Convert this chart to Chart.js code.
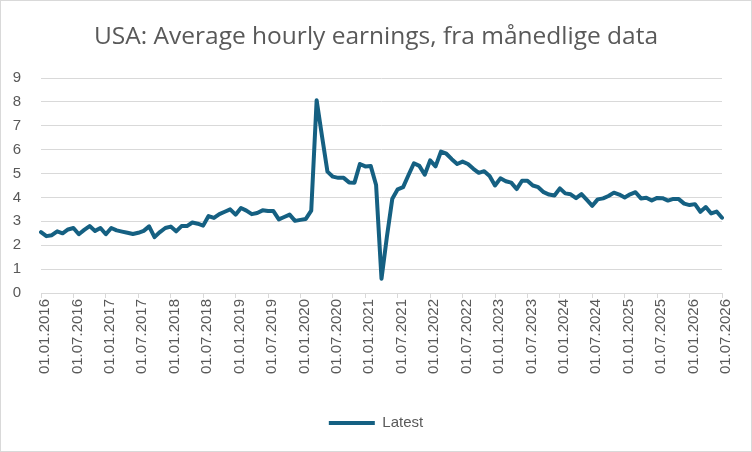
<!DOCTYPE html>
<html>
<head>
<meta charset="utf-8">
<script src="https://cdn.jsdelivr.net/npm/chart.js@4.4.1/dist/chart.umd.min.js"></script>
<style>
  html, body { margin: 0; padding: 0; background: #fff; }
  canvas { display: block; }
</style>
</head>
<body>
<canvas id="lonn" width="752" height="452"></canvas>
<script>
// Årlig vekst i gjennomsnittlig timelønn, månedlig (lest av figuren)
const startYear = 2016;
const latest = [
  2.55, 2.38, 2.42, 2.58, 2.50, 2.66, 2.72, 2.46, 2.64, 2.80, 2.60, 2.72, // 2016
  2.46, 2.72, 2.62, 2.57, 2.52, 2.47, 2.52, 2.60, 2.79, 2.34, 2.55, 2.72, // 2017
  2.78, 2.58, 2.80, 2.80, 2.95, 2.90, 2.82, 3.22, 3.14, 3.30, 3.40, 3.50, // 2018
  3.28, 3.56, 3.45, 3.30, 3.35, 3.46, 3.43, 3.43, 3.08, 3.18, 3.28, 3.02, // 2019
  3.06, 3.10, 3.45, 8.07, 6.55, 5.08, 4.87, 4.82, 4.82, 4.63, 4.62, 5.40, // 2020
  5.30, 5.32, 4.52, 0.60, 2.35, 3.95, 4.34, 4.43, 4.94, 5.43, 5.32, 4.95, // 2021
  5.55, 5.30, 5.92, 5.83, 5.60, 5.40, 5.50, 5.40, 5.20, 5.03, 5.10, 4.90, // 2022
  4.50, 4.80, 4.68, 4.62, 4.35, 4.70, 4.70, 4.50, 4.43, 4.22, 4.12, 4.08, // 2023
  4.38, 4.17, 4.13, 3.97, 4.14, 3.90, 3.65, 3.92, 3.96, 4.06, 4.20, 4.12, // 2024
  4.00, 4.13, 4.22, 3.96, 3.99, 3.87, 3.98, 3.97, 3.87, 3.94, 3.93, 3.74, // 2025
  3.68, 3.72, 3.40, 3.60, 3.33, 3.41, 3.15                                // 2026
];

// Kategorier: en per måned, dd.mm.åååå
const months = latest.map((_, i) => {
  const y = startYear + Math.floor(i / 12);
  const m = String(i % 12 + 1).padStart(2, '0');
  return '01.' + m + '.' + y;
});
// Etiketter på x-aksen: hver sjette måned
const tickLabels = months.filter((_, i) => i % 6 === 0);

const grey = '#d9d9d9';
const textGrey = '#595959';

// Hvit bakgrunn og tynn ramme rundt hele figuren
const ramme = {
  id: 'ramme',
  beforeDraw(chart) {
    const c = chart.ctx;
    c.save();
    c.fillStyle = '#fff';
    c.fillRect(0, 0, chart.width, chart.height);
    c.strokeStyle = grey;
    c.lineWidth = 1;
    c.strokeRect(0.5, 0.5, chart.width - 1, chart.height - 1);
    c.restore();
  },
  // tittel og forklaring sentreres over hele bredden, ikke bare til venstre for høyremargen
  afterLayout(chart) {
    for (const b of [chart.titleBlock, chart.legend]) {
      if (b) { b.left = 30; b.right = 722; b.width = 692; }
    }
  }
};

new Chart(document.getElementById('lonn'), {
  type: 'line',
  data: {
    labels: months,
    datasets: [{
      label: 'Latest',
      data: latest,
      borderColor: '#156082',
      backgroundColor: '#156082',
      borderWidth: 4,
      borderJoinStyle: 'round',
      borderCapStyle: 'round',
      pointRadius: 0,
      tension: 0,
      fill: false
    }]
  },
  options: {
    responsive: false,
    animation: false,
    devicePixelRatio: 1,
    layout: { padding: { left: 0, right: 30, top: 0, bottom: 11.5 } },
    plugins: {
      title: {
        display: true,
        text: 'USA: Average hourly earnings, fra månedlige data',
        color: textGrey,
        font: { family: 'Open Sans', size: 24.5, weight: 'normal', lineHeight: 1.2 },
        padding: { top: 22, bottom: 26.6 }
      },
      legend: {
        position: 'bottom',
        labels: {
          color: textGrey,
          font: { family: 'Liberation Sans', size: 15 },
          usePointStyle: true,
          pointStyle: 'line',
          pointStyleWidth: 46,
          padding: 10
        }
      },
      tooltip: { enabled: false }
    },
    scales: {
      x: {
        offset: false,
        grid: {
          drawOnChartArea: false,
          drawTicks: true,
          tickLength: 5,
          tickColor: ctx => (ctx.index % 6 === 0 ? grey : 'rgba(0,0,0,0)')
        },
        border: { color: grey, width: 1 },
        ticks: {
          autoSkip: false,
          minRotation: 90,
          maxRotation: 90,
          padding: 1,
          labelOffset: 4,
          color: textGrey,
          font: { family: 'Liberation Sans', size: 15 },
          callback: function (val) {
            const lab = this.getLabelForValue(val);
            return tickLabels.includes(lab) ? lab : '';
          }
        },
        afterFit: s => { s.height = 112.5; }
      },
      y: {
        min: 0,
        max: 9,
        grid: { color: grey, lineWidth: 1, drawTicks: false },
        border: { display: false },
        ticks: {
          stepSize: 1,
          padding: 20,
          color: textGrey,
          font: { family: 'Liberation Sans', size: 15 }
        },
        afterFit: s => { s.width = 41; }
      }
    }
  },
  plugins: [ramme]
});
</script>
</body>
</html>
